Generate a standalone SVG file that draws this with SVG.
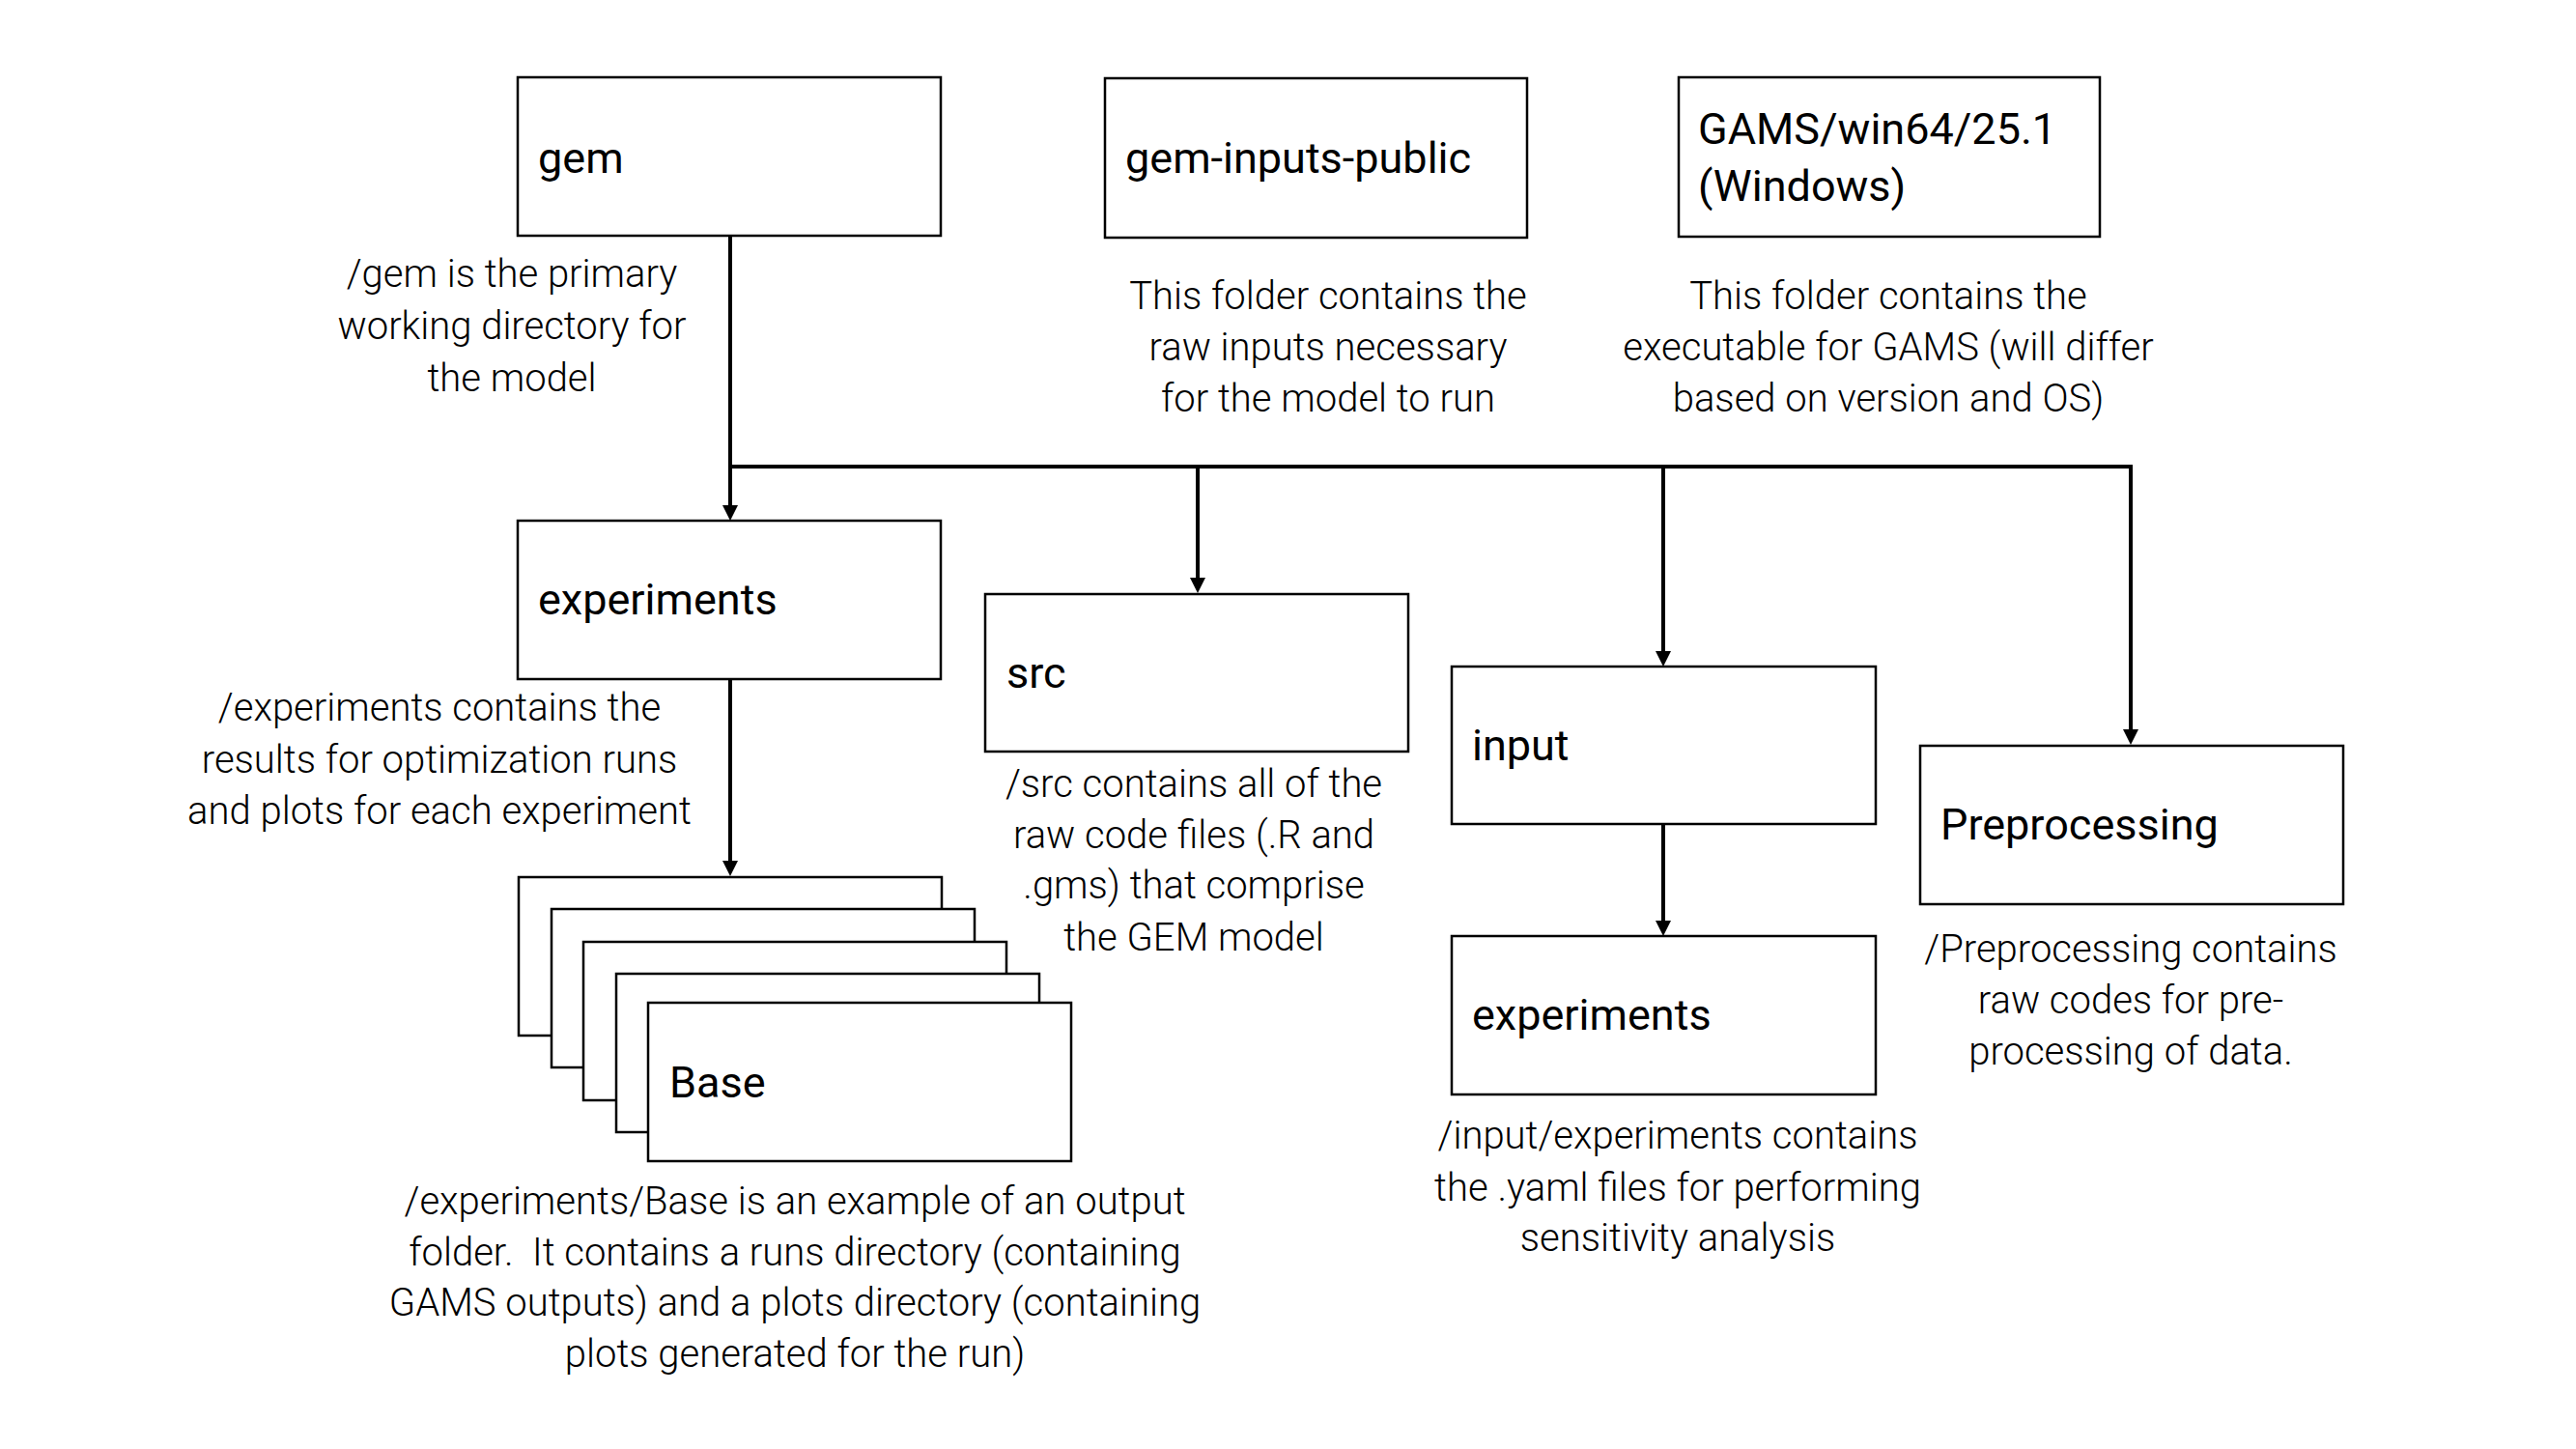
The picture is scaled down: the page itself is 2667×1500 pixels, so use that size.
<svg xmlns="http://www.w3.org/2000/svg" width="2667" height="1500" viewBox="0 0 2667 1500">
<style>
.box{fill:#fff;stroke:#000;stroke-width:2.5}
.lbl{font-family:Roboto,"Liberation Sans",sans-serif;font-size:45px;fill:#000}
.desc{font-family:Roboto,"Liberation Sans",sans-serif;font-weight:300;font-size:40px;fill:#000;text-anchor:middle}
.con{fill:none;stroke:#000;stroke-width:4}
</style>
<defs>
<marker id="arr" markerUnits="userSpaceOnUse" viewBox="0 0 16 16" markerWidth="16" markerHeight="16" refX="8" refY="8" orient="auto">
<path d="M0,0 L16,8 L0,16 z" fill="#000"/>
</marker>
</defs>
<rect width="2667" height="1500" fill="#fff"/>
<g id="connectors">
<path class="con" d="M756,244 V531" marker-end="url(#arr)"/>
<path class="con" d="M756,483 H2206"/>
<path class="con" d="M1240,483 V606" marker-end="url(#arr)"/>
<path class="con" d="M1722,483 V682" marker-end="url(#arr)"/>
<path class="con" d="M2206,481 V763" marker-end="url(#arr)"/>
<path class="con" d="M756,703 V899" marker-end="url(#arr)"/>
<path class="con" d="M1722,853 V961" marker-end="url(#arr)"/>
</g>
<g id="gem">
<rect class="box" x="536" y="80" width="438" height="164"/>
<text class="lbl" x="557" y="179">gem</text>
<text class="desc" x="530"><tspan x="530" y="297">/gem is the primary</tspan><tspan x="530" y="351">working directory for</tspan><tspan x="530" y="405">the model</tspan></text>
</g>
<g id="gem-inputs-public">
<rect class="box" x="1144" y="81" width="437" height="165"/>
<text class="lbl" x="1165" y="179">gem-inputs-public</text>
<text class="desc"><tspan x="1375" y="320">This folder contains the</tspan><tspan x="1375" y="373">raw inputs necessary</tspan><tspan x="1375" y="426">for the model to run</tspan></text>
</g>
<g id="gams">
<rect class="box" x="1738" y="80" width="436" height="165"/>
<text class="lbl"><tspan x="1758" y="149">GAMS/win64/25.1</tspan><tspan x="1758" y="208">(Windows)</tspan></text>
<text class="desc"><tspan x="1955" y="320">This folder contains the</tspan><tspan x="1955" y="373">executable for GAMS (will differ</tspan><tspan x="1955" y="426">based on version and OS)</tspan></text>
</g>
<g id="experiments">
<rect class="box" x="536" y="539" width="438" height="164"/>
<text class="lbl" x="557" y="636">experiments</text>
<text class="desc"><tspan x="455" y="746">/experiments contains the</tspan><tspan x="455" y="800">results for optimization runs</tspan><tspan x="455" y="853">and plots for each experiment</tspan></text>
</g>
<g id="src">
<rect class="box" x="1020" y="615" width="438" height="163"/>
<text class="lbl" x="1042" y="712">src</text>
<text class="desc"><tspan x="1236" y="825">/src contains all of the</tspan><tspan x="1236" y="878">raw code files (.R and</tspan><tspan x="1236" y="930">.gms) that comprise</tspan><tspan x="1236" y="984">the GEM model</tspan></text>
</g>
<g id="input">
<rect class="box" x="1503" y="690" width="439" height="163"/>
<text class="lbl" x="1524" y="787">input</text>
</g>
<g id="input-experiments">
<rect class="box" x="1503" y="969" width="439" height="164"/>
<text class="lbl" x="1524" y="1066">experiments</text>
<text class="desc"><tspan x="1737" y="1189">/input/experiments contains</tspan><tspan x="1737" y="1243">the .yaml files for performing</tspan><tspan x="1737" y="1295">sensitivity analysis</tspan></text>
</g>
<g id="preprocessing">
<rect class="box" x="1988" y="772" width="438" height="164"/>
<text class="lbl" x="2009" y="869">Preprocessing</text>
<text class="desc"><tspan x="2206" y="996">/Preprocessing contains</tspan><tspan x="2206" y="1049">raw codes for pre-</tspan><tspan x="2206" y="1102">processing of data.</tspan></text>
</g>
<g id="base">
<rect class="box" x="537" y="908" width="438" height="164"/>
<rect class="box" x="571" y="941" width="438" height="164"/>
<rect class="box" x="604" y="975" width="438" height="164"/>
<rect class="box" x="638" y="1008" width="438" height="164"/>
<rect class="box" x="671" y="1038" width="438" height="164"/>
<text class="lbl" x="693" y="1136">Base</text>
<text class="desc" xml:space="preserve"><tspan x="823" y="1257">/experiments/Base is an example of an output</tspan><tspan x="823" y="1310">folder.  It contains a runs directory (containing</tspan><tspan x="823" y="1362">GAMS outputs) and a plots directory (containing</tspan><tspan x="823" y="1415">plots generated for the run)</tspan></text>
</g>
</svg>
